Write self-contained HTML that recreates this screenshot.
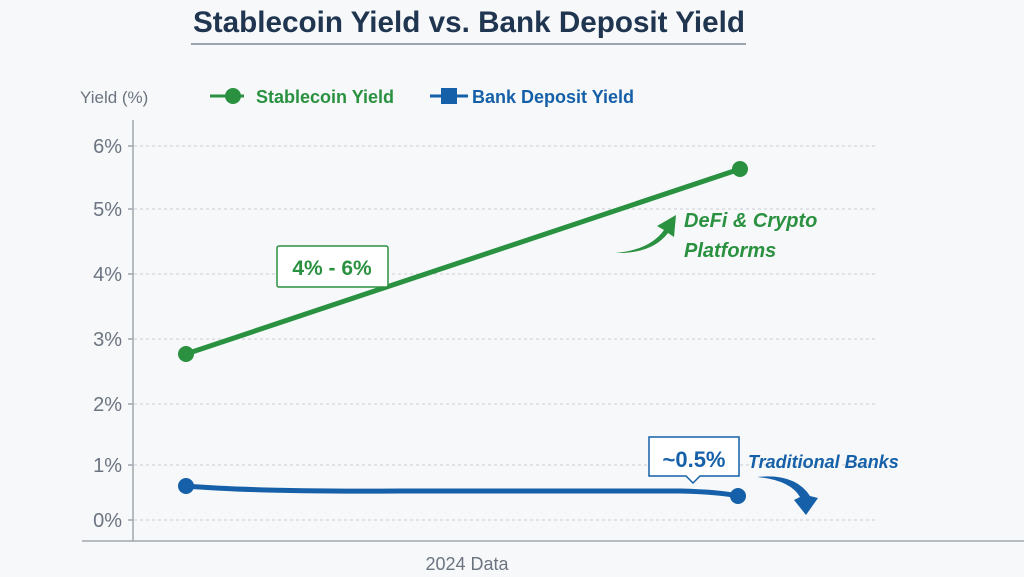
<!DOCTYPE html>
<html><head><style>
body{margin:0;width:1024px;height:577px;background:#f7f8fa;overflow:hidden}
svg{display:block}
text{font-family:"Liberation Sans",sans-serif}
</style></head><body>
<svg width="1024" height="577" viewBox="0 0 1024 577">
<rect width="1024" height="577" fill="#f7f8fa"/>
<text x="469" y="32" text-anchor="middle" font-size="30" font-weight="bold" fill="#1f3550" textLength="552" lengthAdjust="spacingAndGlyphs">Stablecoin Yield vs. Bank Deposit Yield</text>
<line x1="191" y1="44" x2="746" y2="44" stroke="#9aa3ae" stroke-width="2"/>
<text x="80" y="103" font-size="17" fill="#6b7480">Yield (%)</text>
<line x1="210" y1="96" x2="244" y2="96" stroke="#2a9140" stroke-width="3"/>
<circle cx="233" cy="96" r="8" fill="#2a9140"/>
<text x="256" y="103" font-size="18" fill="#2a9140" font-weight="bold">Stablecoin Yield</text>
<line x1="430" y1="96" x2="468" y2="96" stroke="#1560a8" stroke-width="3"/>
<rect x="441" y="88" width="16" height="16" fill="#1560a8"/>
<text x="472" y="103" font-size="18" fill="#1560a8" font-weight="bold">Bank Deposit Yield</text>
<g stroke="#c8cdd4" stroke-width="1" stroke-dasharray="3,3">
<line x1="134" y1="146" x2="875" y2="146"/><line x1="134" y1="209" x2="875" y2="209"/>
<line x1="134" y1="274" x2="875" y2="274"/><line x1="134" y1="339" x2="875" y2="339"/>
<line x1="134" y1="404" x2="875" y2="404"/><line x1="134" y1="465" x2="875" y2="465"/>
<line x1="134" y1="520" x2="875" y2="520"/></g>
<line x1="133" y1="120" x2="133" y2="541" stroke="#a0a6ae" stroke-width="1.5"/>
<line x1="82" y1="541" x2="1024" y2="541" stroke="#a0a6ae" stroke-width="1.5"/>
<g stroke="#a0a6ae" stroke-width="1.5"><line x1="128" y1="146" x2="133" y2="146"/><line x1="128" y1="209" x2="133" y2="209"/><line x1="128" y1="274" x2="133" y2="274"/><line x1="128" y1="339" x2="133" y2="339"/><line x1="128" y1="404" x2="133" y2="404"/><line x1="128" y1="465" x2="133" y2="465"/><line x1="128" y1="520" x2="133" y2="520"/></g>
<g font-size="20" fill="#6b7480" text-anchor="end">
<text x="122" y="153">6%</text><text x="122" y="216">5%</text><text x="122" y="281">4%</text><text x="122" y="346">3%</text><text x="122" y="411">2%</text><text x="122" y="472">1%</text><text x="122" y="527">0%</text></g>
<line x1="186" y1="354" x2="740" y2="169" stroke="#2a9140" stroke-width="5"/>
<circle cx="186" cy="354" r="8" fill="#2a9140"/><circle cx="740" cy="169" r="8" fill="#2a9140"/>
<rect x="277" y="246" width="111" height="41" rx="2" fill="#fff" stroke="#2a9140" stroke-width="1.5"/>
<text x="332" y="275" text-anchor="middle" font-size="21" font-weight="bold" fill="#2a9140">4% - 6%</text>
<path d="M615 253 Q650 250 664 230 L657 226 L676 215 L674 237 L668 233 Q652 254 615 253Z" fill="#2a9140"/>
<text x="684" y="227" font-size="20" font-weight="bold" font-style="italic" fill="#2a9140">DeFi &amp; Crypto</text>
<text x="684" y="257" font-size="20" font-weight="bold" font-style="italic" fill="#2a9140">Platforms</text>
<path d="M186 486 Q260 492 400 491 L680 491 Q720 492 738 496" fill="none" stroke="#1560a8" stroke-width="5"/>
<circle cx="186" cy="486" r="8" fill="#1560a8"/><circle cx="738" cy="496" r="8" fill="#1560a8"/>
<path d="M649 437 H739 V476 H700 L693 483 L686 476 H649Z" fill="#fff" stroke="#1560a8" stroke-width="1.5"/>
<text x="694" y="467" text-anchor="middle" font-size="22" font-weight="bold" fill="#1560a8">~0.5%</text>
<text x="748" y="468" font-size="18" font-weight="bold" font-style="italic" fill="#1560a8">Traditional Banks</text>
<path d="M757 477 Q790 480 800 497 L794 500 L806 515 L818 498 L810 496 Q795 473 757 477Z" fill="#1560a8"/>
<text x="467" y="570" text-anchor="middle" font-size="18" fill="#6b7480">2024 Data</text>
</svg>
</body></html>
